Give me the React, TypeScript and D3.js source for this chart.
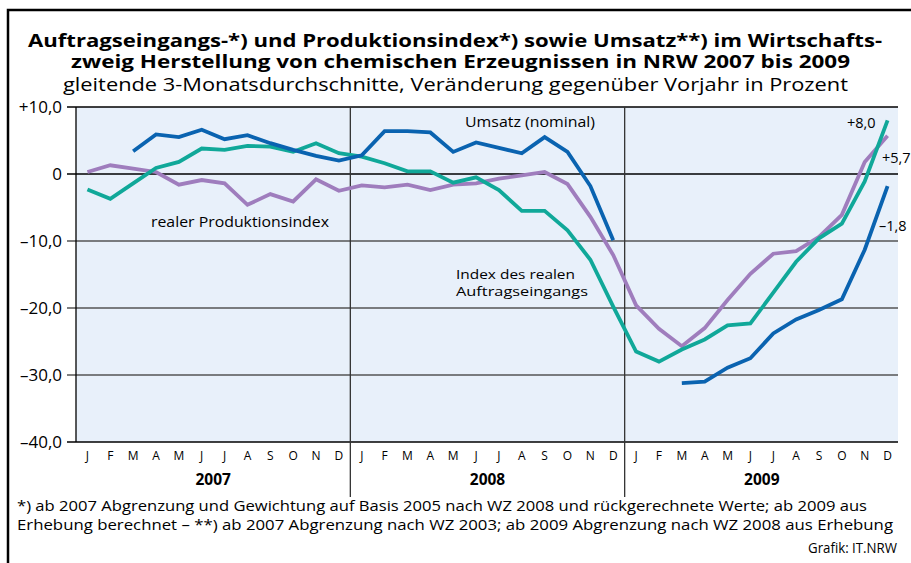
import React from "react";
import * as d3 from "d3";

// month letters and years on the x axis
const monthLetters = ["J", "F", "M", "A", "M", "J", "J", "A", "S", "O", "N", "D"];
const years = ["2007", "2008", "2009"];

// index of real order intake (teal)
const auftrag: (number | null)[] = [
  -2.3, -3.7, -1.4, 0.9, 1.8, 3.8, 3.6, 4.2, 4.1, 3.3, 4.6, 3.1,
  2.6, 1.6, 0.4, 0.4, -1.3, -0.5, -2.4, -5.5, -5.5, -8.4, -12.8, -19.8,
  -26.5, -28.0, -26.2, -24.7, -22.6, -22.3, -17.7, -13.1, -9.6, -7.4, -1.1, 8.0,
];

// real production index (purple)
const produktion: (number | null)[] = [
  0.3, 1.3, 0.8, 0.3, -1.6, -0.9, -1.4, -4.6, -3.0, -4.1, -0.8, -2.5,
  -1.7, -2.0, -1.6, -2.4, -1.6, -1.4, -0.7, -0.2, 0.3, -1.5, -6.4, -12.1,
  -19.6, -23.1, -25.7, -23.0, -18.8, -14.9, -11.9, -11.5, -9.4, -6.1, 1.8, 5.7,
];

// turnover, nominal (blue)
const umsatz: (number | null)[] = [
  null, null, 3.4, 5.9, 5.5, 6.6, 5.2, 5.8, 4.6, 3.6, 2.7, 2.0,
  2.8, 6.4, 6.4, 6.2, 3.3, 4.7, 3.9, 3.1, 5.5, 3.3, -1.8, -9.9,
  null, null, -31.2, -31.0, -28.9, -27.5, -23.8, -21.7, -20.3, -18.7, -11.3, -1.8,
];

const yTicks = [10, 0, -10, -20, -30, -40];
const yTickLabels = ["+10,0", "0", "\u201310,0", "\u201320,0", "\u201330,0", "\u201340,0"];

const BLUE = "#0a63b0";
const TEAL = "#10a899";
const PURPLE = "#9f7dbd";
const BG = "#e8f0fa";
const FONT = "'Open Sans', 'Noto Sans', sans-serif";

export default function App() {
  const left = 76, right = 899, top = 107, bottom = 442;
  const idx = d3.range(36);
  const x = d3.scaleBand<number>().domain(idx).range([left, right]);
  const cx = (i: number) => (x(i) as number) + x.bandwidth() / 2;
  const y = d3.scaleLinear().domain([-40, 10]).range([bottom, top]);

  const line = d3
    .line<number | null>()
    .defined((d) => d !== null)
    .x((_, i) => cx(i))
    .y((d) => y(d as number));

  const series = [
    { data: produktion, color: PURPLE },
    { data: auftrag, color: TEAL },
    { data: umsatz, color: BLUE },
  ];

  const plotRight = 898;

  return (
    <svg
      width={911}
      height={563}
      style={{ position: "absolute", left: 0, top: 0, background: "#fff" }}
      fontFamily={FONT}
    >
      {/* outer frame, cut off at right and bottom */}
      <rect x={8} y={10} width={940} height={600} fill="none" stroke="#000" strokeWidth={2.5} />

      {/* titles */}
      <text x={28} y={47} fontSize={18.5} fontWeight={700} textLength={854} lengthAdjust="spacingAndGlyphs">
        Auftragseingangs-*) und Produktionsindex*) sowie Umsatz**) im Wirtschafts-
      </text>
      <text x={71} y={68} fontSize={18.5} fontWeight={700} textLength={779} lengthAdjust="spacingAndGlyphs">
        zweig Herstellung von chemischen Erzeugnissen in NRW 2007 bis 2009
      </text>
      <text x={63} y={91} fontSize={18} textLength={785} lengthAdjust="spacingAndGlyphs">
        gleitende 3-Monatsdurchschnitte, Veränderung gegenüber Vorjahr in Prozent
      </text>

      {/* plot background */}
      <rect x={left} y={top} width={plotRight - left} height={bottom - top} fill={BG} />

      {/* horizontal grid and y ticks */}
      {yTicks.map((t, i) => (
        <g key={t}>
          <line
            x1={67}
            x2={plotRight}
            y1={y(t)}
            y2={y(t)}
            stroke={t === 0 || t === 10 || t === -40 ? "#000" : "#555"}
            strokeWidth={1.3}
          />
          <text x={62} y={y(t)} dy="0.36em" textAnchor="end" fontSize={17}>
            {yTickLabels[i]}
          </text>
        </g>
      ))}

      {/* left axis and year dividers */}
      <line x1={left} x2={left} y1={top} y2={bottom} stroke="#000" strokeWidth={1.3} />
      {[12, 24].map((m) => (
        <line key={m} x1={x(m)} x2={x(m)} y1={top} y2={497} stroke="#333" strokeWidth={1.3} />
      ))}

      {/* month and year labels */}
      {idx.map((i) => (
        <text key={i} x={cx(i)} y={460} textAnchor="middle" fontSize={12}>
          {monthLetters[i % 12]}
        </text>
      ))}
      {years.map((yr, k) => (
        <text
          key={yr}
          x={((x(k * 12) as number) + (x(k * 12 + 11) as number) + x.bandwidth()) / 2}
          y={485}
          textAnchor="middle"
          fontSize={15.5}
          fontWeight={700}
        >
          {yr}
        </text>
      ))}

      {/* data lines */}
      {series.map((s) => (
        <path
          key={s.color}
          d={line(s.data) || ""}
          fill="none"
          stroke={s.color}
          strokeWidth={3.8}
          strokeLinejoin="miter"
        />
      ))}

      {/* annotations */}
      <text x={465} y={127} fontSize={15} textLength={130} lengthAdjust="spacingAndGlyphs">
        Umsatz (nominal)
      </text>
      <text x={151} y={227} fontSize={15} textLength={178} lengthAdjust="spacingAndGlyphs">
        realer Produktionsindex
      </text>
      <text x={456} y={279} fontSize={13.5} textLength={119} lengthAdjust="spacingAndGlyphs">
        Index des realen
      </text>
      <text x={456} y={296} fontSize={13.5} textLength={132} lengthAdjust="spacingAndGlyphs">
        Auftragseingangs
      </text>
      <text x={847} y={128} fontSize={14.5}>+8,0</text>
      <text x={882} y={163} fontSize={14.5}>+5,7</text>
      <text x={879} y={231} fontSize={14.5}>{"\u20131,8"}</text>

      {/* footnotes */}
      <text x={17} y={511} fontSize={14.5} textLength={850} lengthAdjust="spacingAndGlyphs">
        *) ab 2007 Abgrenzung und Gewichtung auf Basis 2005 nach WZ 2008 und rückgerechnete Werte; ab 2009 aus
      </text>
      <text x={17} y={530} fontSize={14.5} textLength={876} lengthAdjust="spacingAndGlyphs">
        Erhebung berechnet – **) ab 2007 Abgrenzung nach WZ 2003; ab 2009 Abgrenzung nach WZ 2008 aus Erhebung
      </text>
      <text x={897} y={553} fontSize={14.5} textAnchor="end" textLength={89} lengthAdjust="spacingAndGlyphs">
        Grafik: IT.NRW
      </text>
    </svg>
  );
}
